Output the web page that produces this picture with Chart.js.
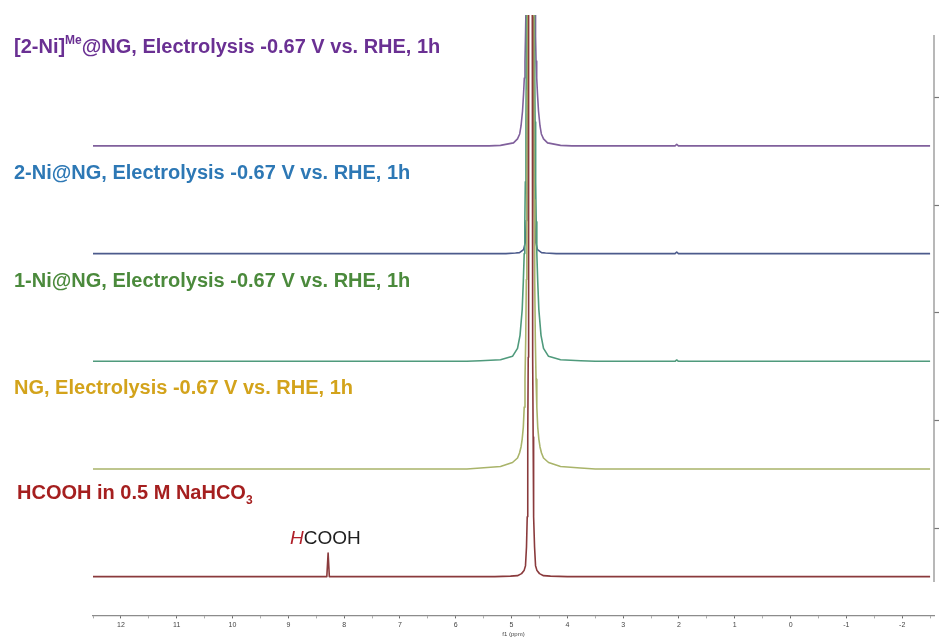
<!DOCTYPE html>
<html>
<head>
<meta charset="utf-8">
<script src="https://cdn.jsdelivr.net/npm/chart.js@4.4.1/dist/chart.umd.min.js"></script>
<style>
  html, body { margin: 0; padding: 0; background: #ffffff; }
  #wrap { width: 940px; height: 638px; }
</style>
</head>
<body>
<div id="wrap"><canvas id="nmr" width="940" height="638"></canvas></div>
<script>
// 1H NMR spectra, stacked: chemical shift (ppm) vs. relative intensity.
// Each spectrum is a list of [ppm, intensity] points above its own baseline.

const hcoohStandard = [
  [12.5, 0], [8.31, 0], [8.287, 0.22], [8.265, 0], [5.30, 0],
  [5.018, 0.005], [4.893, 0.009], [4.821, 0.028], [4.776, 0.056], [4.750, 0.102],
  [4.732, 0.278], [4.719, 0.556], [4.712, 0.926], [4.707, 1.296], [4.701, 2.037],
  [4.696, 3.241], [4.692, 5.2], [4.66, 20],
  [4.628, 5.2], [4.624, 3.241], [4.619, 2.037], [4.613, 1.296], [4.608, 0.926],
  [4.601, 0.556], [4.588, 0.278], [4.570, 0.102], [4.544, 0.056], [4.499, 0.028],
  [4.427, 0.009], [4.302, 0.005], [4.00, 0], [-2.5, 0]
];

const ngElectrolysis = [
  [12.5, 0], [5.80, 0],
  [5.556, 0.009], [5.198, 0.023], [4.983, 0.060], [4.893, 0.102], [4.857, 0.148],
  [4.830, 0.204], [4.809, 0.278], [4.789, 0.389], [4.773, 0.574], [4.759, 0.833],
  [4.746, 1.204], [4.735, 1.759], [4.726, 2.5], [4.719, 3.519], [4.714, 4.352],
  [4.66, 18],
  [4.606, 4.352], [4.601, 3.519], [4.594, 2.5], [4.585, 1.759], [4.574, 1.204],
  [4.561, 0.833], [4.547, 0.574], [4.531, 0.389], [4.511, 0.278], [4.490, 0.204],
  [4.463, 0.148], [4.427, 0.102], [4.337, 0.060], [4.122, 0.023], [3.764, 0.009],
  [3.50, 0], [-2.5, 0]
];

const ni1Electrolysis = [
  [12.5, 0], [5.80, 0],
  [5.556, 0.005], [5.198, 0.014], [4.983, 0.046], [4.893, 0.120], [4.848, 0.241],
  [4.809, 0.481], [4.789, 0.741], [4.773, 1.0], [4.762, 1.296], [4.753, 1.667],
  [4.742, 2.222], [4.732, 2.963], [4.723, 3.889],
  [4.66, 16],
  [4.597, 3.889], [4.588, 2.963], [4.578, 2.222], [4.568, 1.667], [4.558, 1.296],
  [4.547, 1.0], [4.531, 0.741], [4.511, 0.481], [4.472, 0.241], [4.427, 0.120],
  [4.337, 0.046], [4.122, 0.014], [3.764, 0.005], [3.50, 0],
  [2.07, 0], [2.04, 0.012], [2.01, 0], [-2.5, 0]
];

const ni2Electrolysis = [
  [12.5, 0], [5.10, 0],
  [4.929, 0.005], [4.857, 0.009], [4.785, 0.037], [4.750, 0.111], [4.737, 0.306],
  [4.726, 0.769], [4.719, 1.296], [4.714, 2.222],
  [4.66, 12],
  [4.606, 2.222], [4.601, 1.296], [4.594, 0.769], [4.583, 0.306], [4.570, 0.111],
  [4.535, 0.037], [4.463, 0.009], [4.391, 0.005], [4.20, 0],
  [2.07, 0], [2.04, 0.015], [2.01, 0], [-2.5, 0]
];

const ni2MeElectrolysis = [
  [12.5, 0], [5.40, 0],
  [5.198, 0.005], [4.965, 0.028], [4.893, 0.065], [4.854, 0.111], [4.830, 0.185],
  [4.803, 0.324], [4.785, 0.481], [4.771, 0.630], [4.759, 0.787], [4.750, 1.019],
  [4.741, 1.296], [4.734, 1.8],
  [4.66, 10],
  [4.586, 1.8], [4.579, 1.296], [4.570, 1.019], [4.561, 0.787], [4.549, 0.630], [4.535, 0.481],
  [4.517, 0.324], [4.490, 0.185], [4.466, 0.111], [4.427, 0.065], [4.355, 0.028],
  [4.122, 0.005], [3.92, 0],
  [2.07, 0], [2.04, 0.015], [2.01, 0], [-2.5, 0]
];

// bottom to top of the stack
const spectra = [hcoohStandard, ngElectrolysis, ni1Electrolysis, ni2Electrolysis, ni2MeElectrolysis];
const spectrumNames = [
  'HCOOH in 0.5 M NaHCO3',
  'NG, Electrolysis -0.67 V vs. RHE, 1h',
  '1-Ni@NG, Electrolysis -0.67 V vs. RHE, 1h',
  '2-Ni@NG, Electrolysis -0.67 V vs. RHE, 1h',
  '[2-Ni]Me@NG, Electrolysis -0.67 V vs. RHE, 1h'
];
const traceColors = ['#8a3a3c', '#a9b46a', '#4f9a7c', '#4c5b8c', '#80609c'];

const shiftRange = [-2.57, 12.5];        // ppm, drawn high to low
const intensityRange = [-0.36, 5.03];
const intensityTicks = [0.45, 1.45, 2.45, 3.45, 4.45];
const rightAxisFloor = -0.05;
const stackStep = 1;

const FONT = '"Liberation Sans", Arial, Helvetica, sans-serif';

const datasets = spectra.map((pts, i) => ({
  label: spectrumNames[i],
  data: pts.map(([x, y]) => ({ x, y: y + i * stackStep })),
  borderColor: traceColors[i],
  borderWidth: 1.6,
  borderJoinStyle: 'round',
  pointRadius: 0,
  showLine: true,
  fill: false,
  tension: 0,
  clip: { left: 0, top: 20, right: 0, bottom: 0 }
}));

// right-hand intensity axis line, ending just under the lowest baseline
const rightAxisLine = {
  id: 'rightAxisLine',
  afterDatasetsDraw(chart) {
    const y = chart.scales.y;
    const ctx = chart.ctx;
    ctx.save();
    ctx.strokeStyle = '#9a9a9a';
    ctx.lineWidth = 1.4;
    ctx.beginPath();
    ctx.moveTo(y.left, y.top);
    ctx.lineTo(y.left, y.getPixelForValue(rightAxisFloor));
    ctx.stroke();
    ctx.restore();
  }
};

// sample captions and the peak annotation
const captions = {
  id: 'captions',
  afterDraw(chart) {
    const ctx = chart.ctx;
    ctx.save();
    ctx.textBaseline = 'alphabetic';
    ctx.textAlign = 'left';

    const bold = s => `bold ${s}px ${FONT}`;

    // [2-Ni]^Me@NG ...
    let x = 14, base = 53;
    ctx.fillStyle = '#6a3093';
    ctx.font = bold(20);
    ctx.fillText('[2-Ni]', x, base);
    x += ctx.measureText('[2-Ni]').width;
    ctx.font = bold(12);
    ctx.fillText('Me', x, base - 9);
    x += ctx.measureText('Me').width;
    ctx.font = bold(20);
    ctx.fillText('@NG, Electrolysis -0.67 V vs. RHE, 1h', x, base);

    ctx.fillStyle = '#2d78b5';
    ctx.fillText(spectrumNames[3], 14, 179);

    ctx.fillStyle = '#4b8a3c';
    ctx.fillText(spectrumNames[2], 14, 287);

    ctx.fillStyle = '#d3a31b';
    ctx.fillText(spectrumNames[1], 14, 394);

    // HCOOH in 0.5 M NaHCO_3
    ctx.fillStyle = '#a51f1f';
    x = 17; base = 499;
    ctx.fillText('HCOOH in 0.5 M NaHCO', x, base);
    x += ctx.measureText('HCOOH in 0.5 M NaHCO').width;
    ctx.font = bold(12);
    ctx.fillText('3', x, base + 5);

    // formate proton label
    x = 290; base = 544;
    ctx.font = `italic 19px ${FONT}`;
    ctx.fillStyle = '#b0202a';
    ctx.fillText('H', x, base);
    x += ctx.measureText('H').width;
    ctx.font = `19px ${FONT}`;
    ctx.fillStyle = '#1e1e1e';
    ctx.fillText('COOH', x, base);

    ctx.restore();
  }
};

new Chart(document.getElementById('nmr'), {
  type: 'scatter',
  data: { datasets },
  options: {
    responsive: false,
    animation: false,
    devicePixelRatio: 1,
    layout: { padding: { left: 93, top: 35, right: 1, bottom: 0 } },
    plugins: { legend: { display: false }, tooltip: { enabled: false } },
    scales: {
      x: {
        type: 'linear',
        reverse: true,
        min: shiftRange[0],
        max: shiftRange[1],
        border: { display: true, color: '#8c8c8c', width: 1.2 },
        grid: {
          display: true,
          drawOnChartArea: false,
          drawTicks: true,
          tickLength: 3,
          tickWidth: 1,
          tickColor: c => (Number.isInteger(c.tick.value) ? '#666' : '#aaa')
        },
        ticks: {
          stepSize: 0.5,
          autoSkip: false,
          includeBounds: false,
          maxRotation: 0,
          padding: 2,
          color: '#444',
          font: { size: 7, family: FONT },
          callback: v => (Number.isInteger(v) ? String(v) : '')
        },
        title: {
          display: true,
          text: 'f1 (ppm)',
          color: '#444',
          font: { size: 6, family: FONT },
          padding: { top: 0, bottom: 0 }
        }
      },
      y: {
        type: 'linear',
        position: 'right',
        min: intensityRange[0],
        max: intensityRange[1],
        afterBuildTicks: s => { s.ticks = intensityTicks.map(v => ({ value: v })); },
        border: { display: false },
        grid: { display: true, drawOnChartArea: false, drawTicks: true, tickLength: 5, tickWidth: 1.2, tickColor: '#777' },
        ticks: { display: false }
      }
    }
  },
  plugins: [rightAxisLine, captions]
});
</script>
</body>
</html>
